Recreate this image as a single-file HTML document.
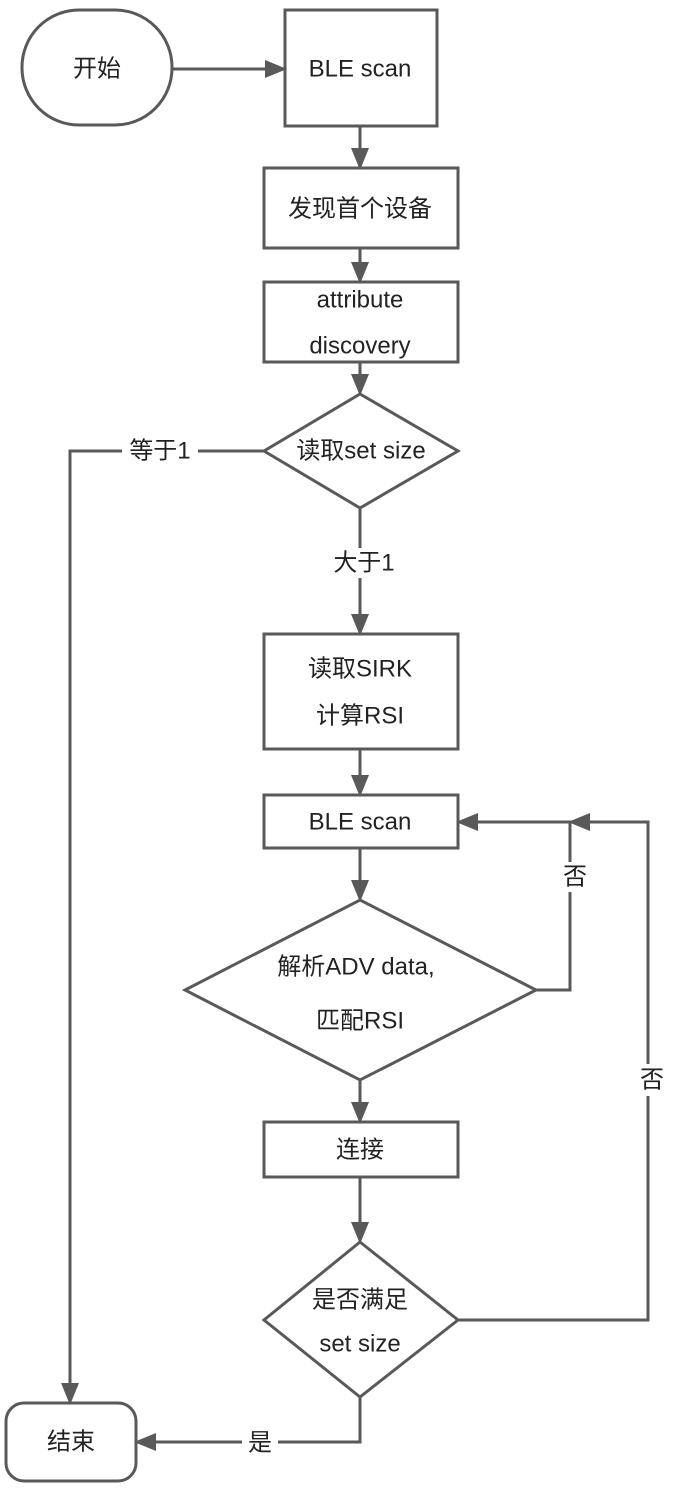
<!DOCTYPE html>
<html><head><meta charset="utf-8"><style>
html,body{margin:0;padding:0;background:#fff;}
svg{display:block;}
text{font-family:"Liberation Sans","Noto Sans CJK SC",sans-serif;font-size:24px;fill:#222;text-anchor:middle;dominant-baseline:central;}
</style></head><body>
<svg width="677" height="1493" viewBox="0 0 677 1493">
<defs><marker id="a" markerWidth="10" markerHeight="10" refX="8" refY="5" orient="auto" markerUnits="userSpaceOnUse" viewBox="0 0 10 10"><path d="M0,0 L10,5 L0,10 z" fill="#595959"/></marker>
<marker id="b" markerWidth="22" markerHeight="20" refX="20" refY="10" orient="auto" markerUnits="userSpaceOnUse" viewBox="0 0 22 20"><path d="M0,1 L22,10 L0,19 z" fill="#595959"/></marker></defs>
<g fill="#fff" stroke="#595959" stroke-width="3">
<rect x="22" y="10" width="150" height="115" rx="57"/>
<rect x="285" y="10" width="152" height="116"/>
<rect x="264" y="168" width="194" height="80"/>
<rect x="264" y="282" width="194" height="80"/>
<polygon points="360,394 458,451 360,508 264,451"/>
<rect x="264" y="634" width="194" height="115"/>
<rect x="264" y="795" width="194" height="53"/>
<polygon points="360,900 536,990 360,1080 185,990"/>
<rect x="264" y="1122" width="194" height="55"/>
<polygon points="360,1242 458,1320 360,1397 264,1320"/>
<rect x="6" y="1403" width="130" height="78" rx="18"/>
</g>
<g fill="none" stroke="#595959" stroke-width="3" marker-end="url(#b)">
<line x1="172" y1="69" x2="285" y2="69"/>
<line x1="360" y1="126" x2="360" y2="168"/>
<line x1="360" y1="248" x2="360" y2="282"/>
<line x1="360" y1="362" x2="360" y2="394"/>
<polyline points="264,451 70,451 70,1403"/>
<line x1="360" y1="508" x2="360" y2="634"/>
<line x1="360" y1="749" x2="360" y2="795"/>
<line x1="360" y1="848" x2="360" y2="900"/>
<polyline points="536,990 570,990 570,822 458,822"/>
<line x1="360" y1="1080" x2="360" y2="1122"/>
<line x1="360" y1="1177" x2="360" y2="1242"/>
<polyline points="458,1320 648,1320 648,822 570,822"/>
<polyline points="360,1397 360,1442 136,1442"/>
</g>
<g fill="#fff">
<rect x="122" y="437" width="76" height="28"/>
<rect x="325" y="548" width="76" height="30"/>
<rect x="558" y="862" width="30" height="30"/>
<rect x="636" y="1064" width="30" height="32"/>
<rect x="242" y="1428" width="36" height="30"/>
</g>
<text x="97" y="69">开始</text>
<text x="360" y="69">BLE scan</text>
<text x="360" y="209">发现首个设备</text>
<text x="360" y="300">attribute</text>
<text x="360" y="346">discovery</text>
<text x="361" y="451">读取set size</text>
<text x="160" y="451">等于1</text>
<text x="364" y="563">大于1</text>
<text x="360" y="669">读取SIRK</text>
<text x="360" y="716">计算RSI</text>
<text x="360" y="822">BLE scan</text>
<text x="356" y="967">解析ADV data,</text>
<text x="360" y="1021">匹配RSI</text>
<text x="575" y="877">否</text>
<text x="652" y="1080">否</text>
<text x="360" y="1150">连接</text>
<text x="360" y="1300">是否满足</text>
<text x="360" y="1344">set size</text>
<text x="260" y="1443">是</text>
<text x="71" y="1442">结束</text>
</svg>
</body></html>
